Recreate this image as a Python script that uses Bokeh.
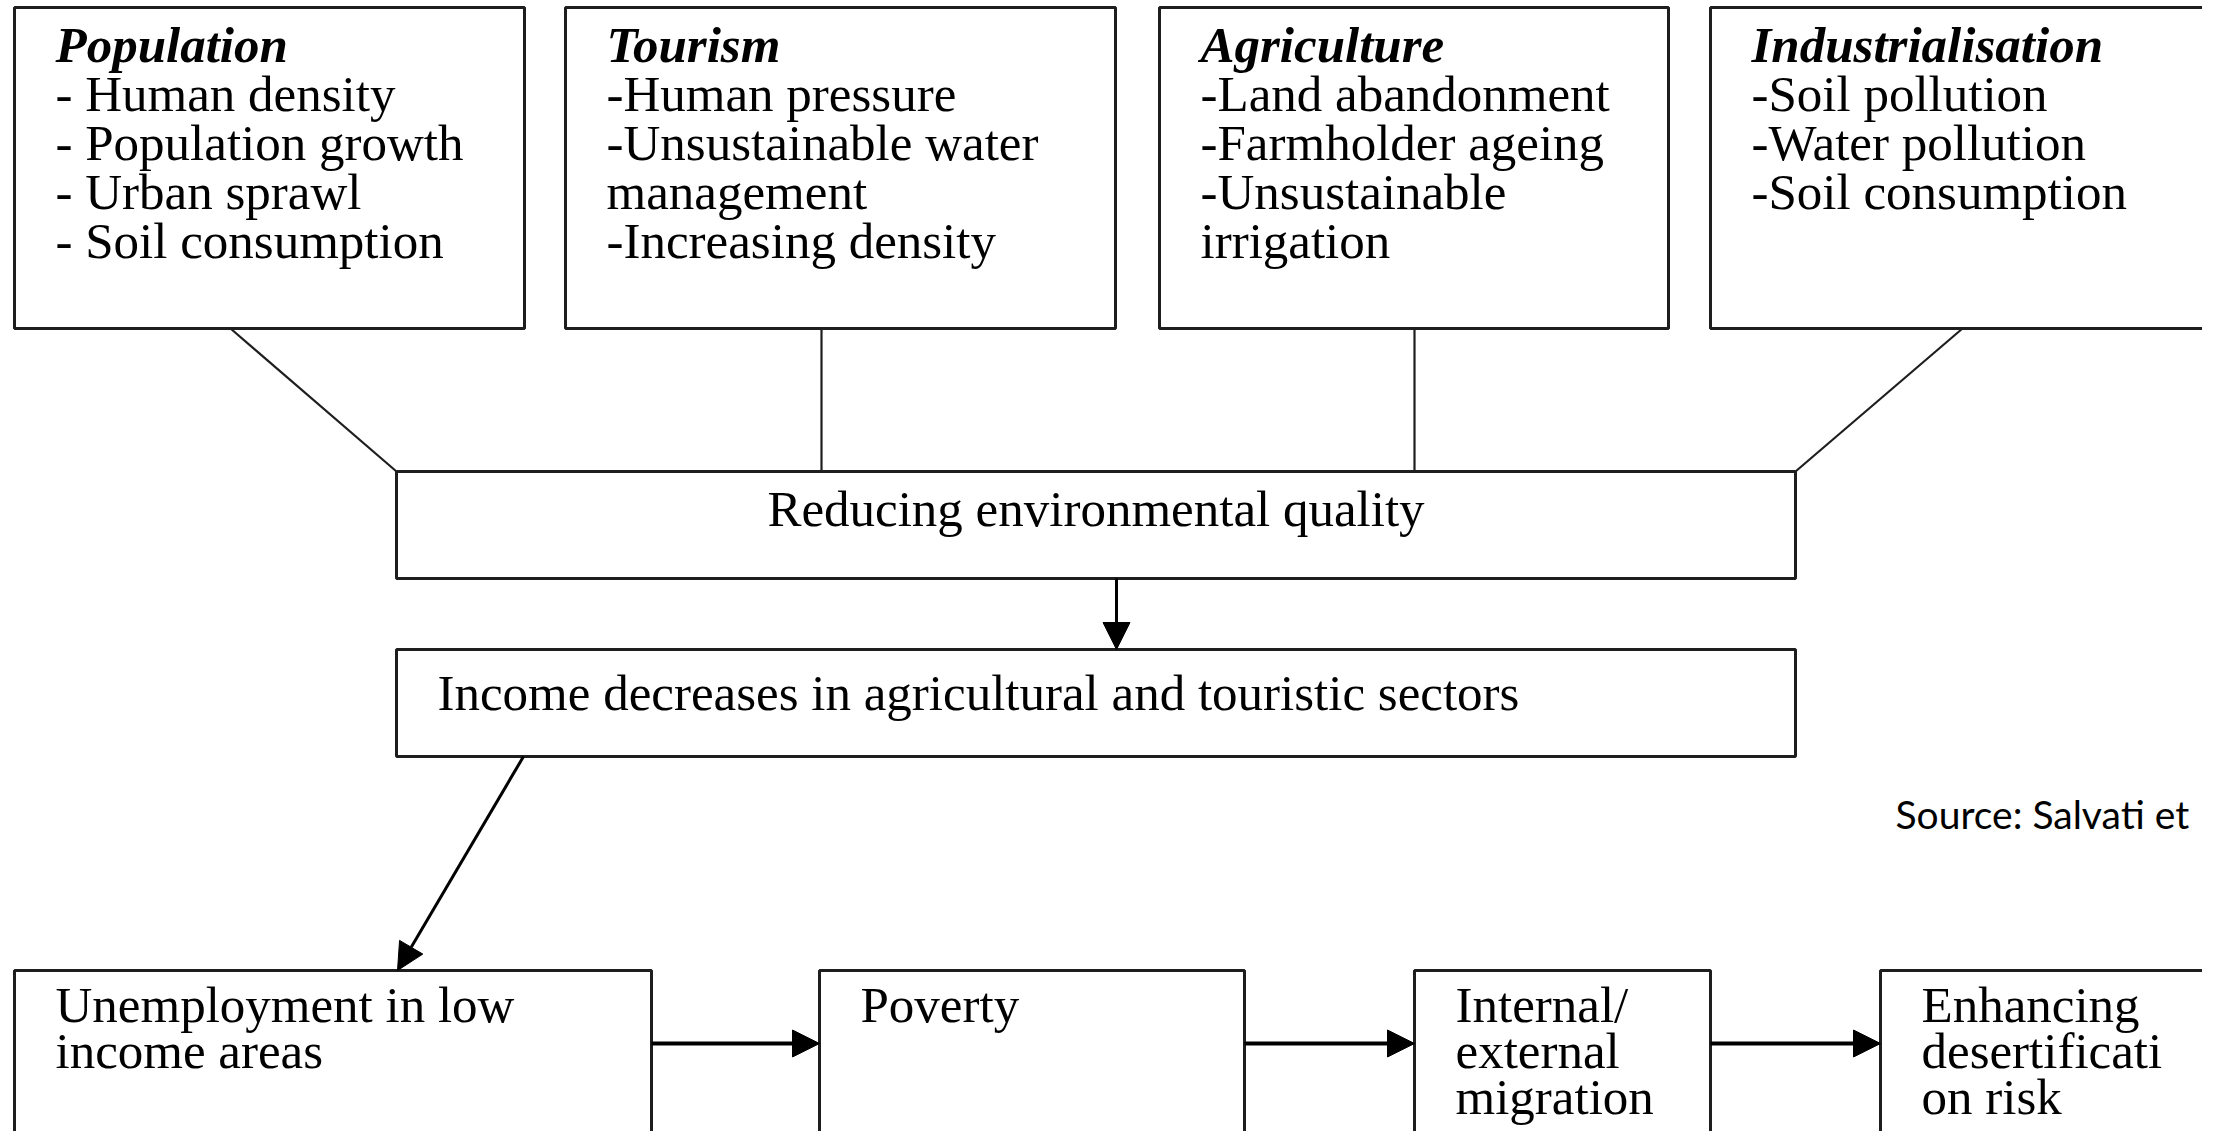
from bokeh.plotting import figure
from bokeh.models import Range1d, Arrow, NormalHead
from bokeh.core.properties import value
from bokeh.embed import file_html
from bokeh.resources import INLINE

# ---------------- content ----------------
driver_titles = ["Population", "Tourism", "Agriculture", "Industrialisation"]
driver_items = [
    ["- Human density", "- Population growth", "- Urban sprawl", "- Soil consumption"],
    ["-Human pressure", "-Unsustainable water", "management", "-Increasing density"],
    ["-Land abandonment", "-Farmholder ageing", "-Unsustainable", "irrigation"],
    ["-Soil pollution", "-Water pollution", "-Soil consumption"],
]
middle_labels = ["Reducing environmental quality",
                 "Income decreases in agricultural and touristic sectors"]
chain_labels = [["Unemployment in low", "income areas"],
                ["Poverty"],
                ["Internal/", "external", "migration"],
                ["Enhancing", "desertificati", "on risk"]]
source_label = "Source: Salvati et"

# ---------------- layout (picture pixels) ----------------
top_left = [14, 565, 1159, 1710]
top_right = [524, 1115, 1668, 2260]
top_y0, top_y1 = 7, 328
mid_left, mid_right = 396, 1795
mid_tops = [471, 649]
mid_bottoms = [578, 756]
bot_left = [14, 819, 1414, 1880]
bot_right = [651, 1244, 1710, 2260]
bot_y0, bot_y1 = 970, 1200

W, H = 2202, 1131
p = figure(width=W, height=H, x_range=Range1d(0, W), y_range=Range1d(H, 0),
           output_backend="svg", toolbar_location=None, min_border=0, title=None,
           x_axis_type=None, y_axis_type=None)
p.grid.visible = False
p.outline_line_color = None
p.background_fill_color = "white"
p.border_fill_color = "white"

BOX = dict(fill_color="white", line_color="#1e1e1e", line_width=3)
FONT = value("Liberation Serif")
FSZ = 51
FS = f"{FSZ}px"


def base(b, fs=FSZ):
    # svg text is drawn about 0.36 em below the requested alphabetic baseline
    return b - 0.36 * fs


# connectors from drivers to middle box
conn_x0 = [230, 821, 1414, 1962]
conn_x1 = [mid_left, 821, 1414, mid_right]
p.segment(x0=conn_x0, y0=[top_y1] * 4, x1=conn_x1, y1=[mid_tops[0]] * 4,
          line_color="#1e1e1e", line_width=2.2)

# boxes
p.quad(left=top_left, right=top_right, top=[top_y0] * 4, bottom=[top_y1] * 4, **BOX)
p.quad(left=[mid_left] * 2, right=[mid_right] * 2, top=mid_tops, bottom=mid_bottoms, **BOX)
p.quad(left=bot_left, right=bot_right, top=[bot_y0] * 4, bottom=[bot_y1] * 4, **BOX)

# driver texts
for i, (title, items) in enumerate(zip(driver_titles, driver_items)):
    x = top_left[i] + 41
    p.text(x=[x], y=[base(63)], text=[title], text_font=FONT, text_font_size=FS,
           text_font_style="bold italic", text_baseline="alphabetic", text_color="black")
    p.text(x=[x] * len(items), y=[base(112 + 49 * k) for k in range(len(items))], text=items,
           text_font=FONT, text_font_size=FS, text_baseline="alphabetic", text_color="black")

# middle texts
p.text(x=[(mid_left + mid_right) / 2], y=[base(527)], text=[middle_labels[0]], text_font=FONT,
       text_font_size=FS, text_align="center", text_baseline="alphabetic", text_color="black")
p.text(x=[437], y=[base(711)], text=[middle_labels[1]], text_font=FONT,
       text_font_size=FS, text_baseline="alphabetic", text_color="black")

# chain texts
for i, lines in enumerate(chain_labels):
    x = bot_left[i] + 41
    p.text(x=[x] * len(lines), y=[base(1023 + 46 * k) for k in range(len(lines))], text=lines,
           text_font=FONT, text_font_size=FS, text_baseline="alphabetic", text_color="black")

# arrows
arrows = [
    (1116, 578, 1116, 649, 3),
    (523, 756, 397, 970, 3),
    (651, 1043, 819, 1043, 4),
    (1244, 1043, 1414, 1043, 4),
    (1710, 1043, 1880, 1043, 4),
]
for (xs, ys, xe, ye, lw) in arrows:
    p.add_layout(Arrow(end=NormalHead(size=27, fill_color="black", line_color="black", line_width=1),
                       x_start=xs, y_start=ys, x_end=xe, y_end=ye,
                       line_color="black", line_width=lw))

# source note
p.text(x=[1895], y=[base(828, 39)], text=[source_label], text_font=value("Lato"),
       text_font_size="39px", text_baseline="alphabetic", text_color="black")

open("out.html", "w").write(file_html(p, INLINE))
